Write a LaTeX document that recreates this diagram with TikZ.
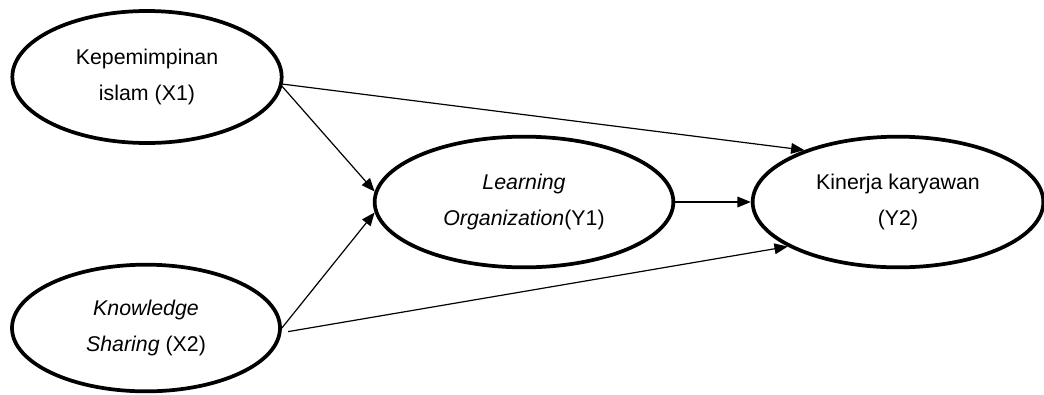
\documentclass[tikz,border=0pt]{standalone}
\usepackage{fontspec}
\setmainfont{Liberation Sans}
\usepackage{tikz}
\usetikzlibrary{shapes.geometric,arrows.meta}

\begin{document}
\begin{tikzpicture}[x=0.75pt,y=-0.75pt,>={Triangle[length=10pt,width=8pt]},
  construct/.style={draw,ellipse,line width=2.8pt,inner sep=0pt,align=center,
    font=\fontsize{16pt}{27pt}\selectfont},
  path/.style={->,line width=0.9pt}]
\useasboundingbox (0,0) rectangle (1044,394);
\node[construct,minimum width=202pt,minimum height=99pt] (x1) at (147,77) {Kepemimpinan\\islam (X1)};
\node[construct,minimum width=201pt,minimum height=95pt] (x2) at (146,328) {\textit{Knowledge}\\\textit{Sharing} (X2)};
\node[construct,minimum width=224pt,minimum height=98pt] (y1) at (524,202) {\textit{Learning}\\\textit{Organization}(Y1)};
\node[construct,minimum width=218pt,minimum height=98pt] (y2) at (898,202) {Kinerja karyawan\\(Y2)};
\draw[path] (x1.-3) -- (y2.151);
\draw[path] (x1.-4) -- (y1.176);
\draw[path] (x2.0) -- (y1.184);
\draw[path,shorten <=5pt] (x2.-2) -- (y2.202);
\draw[path] (y1) -- (y2);
\end{tikzpicture}
\end{document}
